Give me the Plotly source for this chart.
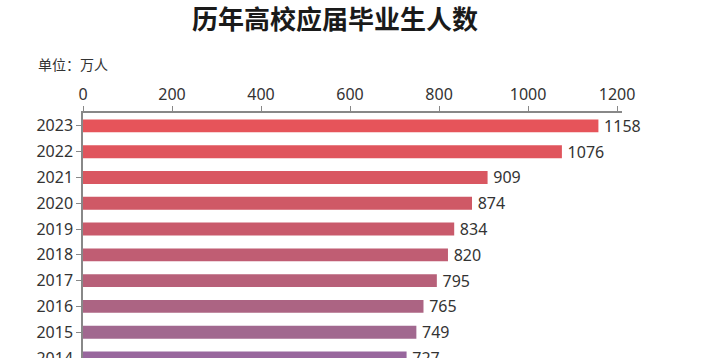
import plotly.graph_objects as go

years = ["2023", "2022", "2021", "2020", "2019", "2018", "2017", "2016", "2015", "2014"]
graduates = [1158, 1076, 909, 874, 834, 820, 795, 765, 749, 727]
bar_colors = ["#E6545A", "#E0555D", "#D95761", "#CF5966", "#C95A6B", "#C05D73",
              "#B76079", "#AC6483", "#A1688F", "#98679D"]
x_ticks = [0, 200, 400, 600, 800, 1000, 1200]

W, H = 720, 358
L, R, T, B = 83, 98, 113, 0

fig = go.Figure(go.Bar(
    x=graduates, y=years, orientation="h",
    marker=dict(color=bar_colors, line=dict(width=0)),
    texttemplate="\u2009%{x}", textposition="outside", constraintext="none",
    textfont=dict(size=16, color="#333333", family="Noto Sans"),
    cliponaxis=False, hoverinfo="x+y",
))

fig.update_layout(
    width=W, height=H,
    margin=dict(l=L, r=R, t=T, b=B, pad=0, autoexpand=False),
    paper_bgcolor="white", plot_bgcolor="white",
    showlegend=False, bargap=0.5,
    font=dict(family="Noto Sans", color="#333333", size=16),
    title=dict(text="<b>历年高校应届毕业生人数</b>", xref="container", x=335 / W, xanchor="center",
               yref="container", y=1 - 20 / H, yanchor="middle",
               font=dict(family="Noto Sans CJK SC", size=26, color="#1a1a1a")),
)

fig.add_annotation(text="单位：万人", xref="paper", yref="paper",
                   x=(36 - L) / (W - L - R), y=(H - 64) / (H - T), xanchor="left", yanchor="middle",
                   showarrow=False, font=dict(family="Noto Sans CJK SC", size=14, color="#333333"))

fig.update_xaxes(side="top", range=[0, 1211], tickvals=x_ticks, ticks="outside", ticklen=5,
                 tickcolor="#888888", showline=True, linecolor="#888888", linewidth=1.5,
                 showgrid=False, zeroline=False, automargin=False,
                 tickfont=dict(size=16, color="#333333"))
fig.update_yaxes(type="category", categoryorder="array", categoryarray=years, range=[9, -0.5],
                 ticks="outside", ticklen=5, tickcolor="#888888", showline=True,
                 linecolor="#888888", linewidth=1.5, showgrid=False, automargin=False,
                 tickfont=dict(size=16, color="#333333"))

fig.write_html("out.html", config={"displayModeBar": False},
               post_script="document.body.style.margin='0';document.body.style.overflow='hidden';")
